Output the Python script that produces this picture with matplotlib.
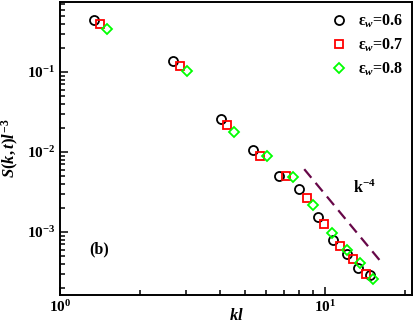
import matplotlib.pyplot as plt
import numpy as np

plt.rcParams['font.family'] = ['Liberation Serif', 'DejaVu Serif']
plt.rcParams['font.weight'] = 'bold'
plt.rcParams['mathtext.fontset'] = 'custom'
plt.rcParams['mathtext.rm'] = 'Liberation Serif:bold'
plt.rcParams['mathtext.it'] = 'Liberation Serif:italic:bold'
plt.rcParams['mathtext.bf'] = 'Liberation Serif:bold'

# eps_w = 0.6
kl_06 = [1.344, 2.676, 4.04, 5.35, 6.69, 8.00, 9.41, 10.69, 12.07, 13.36, 14.79]
s_06 = [0.452, 0.1372, 0.02615, 0.01059, 0.00507, 0.00349, 0.00154,
        7.87e-4, 5.26e-4, 3.59e-4, 2.87e-4]
# eps_w = 0.7
kl_07 = [1.416, 2.844, 4.27, 5.70, 7.13, 8.53, 9.94, 11.39, 12.79, 14.28]
s_07 = [0.394, 0.120, 0.0220, 0.00884, 0.00497, 0.00262, 0.00124,
        6.76e-4, 4.65e-4, 2.96e-4]
# eps_w = 0.8
kl_08 = [1.508, 3.023, 4.52, 6.06, 7.55, 9.03, 10.60, 12.07, 13.55, 15.22]
s_08 = [0.349, 0.102, 0.0176, 0.00884, 0.00483, 0.00216, 9.83e-4,
        5.90e-4, 4.10e-4, 2.58e-4]

# reference k^-4 line
k_ref = np.array([8.35, 16.5])
amp_ref = 29.6

fig = plt.figure(figsize=(4.15, 3.24), dpi=100)
ax = fig.add_axes([0.1446, 0.0904, 0.8482, 0.9034])

ax.plot(kl_06, s_06, 'o', ls='none', mfc='none', mec='black', ms=6.5, mew=1.3,
        label=r'$\mathrm{\varepsilon}_w$=0.6')
ax.plot(kl_07, s_07, 's', ls='none', mfc='none', mec='#ff0000', ms=6, mew=1.3,
        label=r'$\mathrm{\varepsilon}_w$=0.7')
ax.plot(kl_08, s_08, 'D', ls='none', mfc='none', mec='#00ff00', ms=5, mew=1.3,
        label=r'$\mathrm{\varepsilon}_w$=0.8')
ax.plot(k_ref, amp_ref * k_ref**-4.0, color='#670748', lw=1.6, ls=(0, (5, 3)))

ax.set_xscale('log')
ax.set_yscale('log')
ax.set_xlim(1, 21.3)
ax.set_ylim(1.64e-4, 0.75)

ax.text(12.7, 3.05e-3, r'$\mathrm{k}^{-4}$', fontsize=11.5, va='baseline')
ax.text(0.083, 0.14, '(b)', fontsize=11.5, transform=ax.transAxes)

for s in ax.spines.values():
    s.set_linewidth(1.4)
ax.tick_params(which='both', direction='in', top=False, right=False,
               labelsize=11, width=1.1)
ax.tick_params(which='major', length=6)
ax.tick_params(which='minor', length=3.5)
ax.tick_params(axis='x', pad=3)

ax.set_xlabel(r'$kl$', fontsize=12, labelpad=-5)
ax.set_ylabel(r'$S(k,t)l^{-3}$', fontsize=12)
ax.yaxis.set_label_coords(-0.112, 0.5)

ax.legend(loc='upper right', bbox_to_anchor=(0.995, 0.985), frameon=False,
          fontsize=11.5, handletextpad=0.7, labelspacing=0.42,
          borderaxespad=0.0, handlelength=1.0)

fig.savefig('out.png', dpi=100)
